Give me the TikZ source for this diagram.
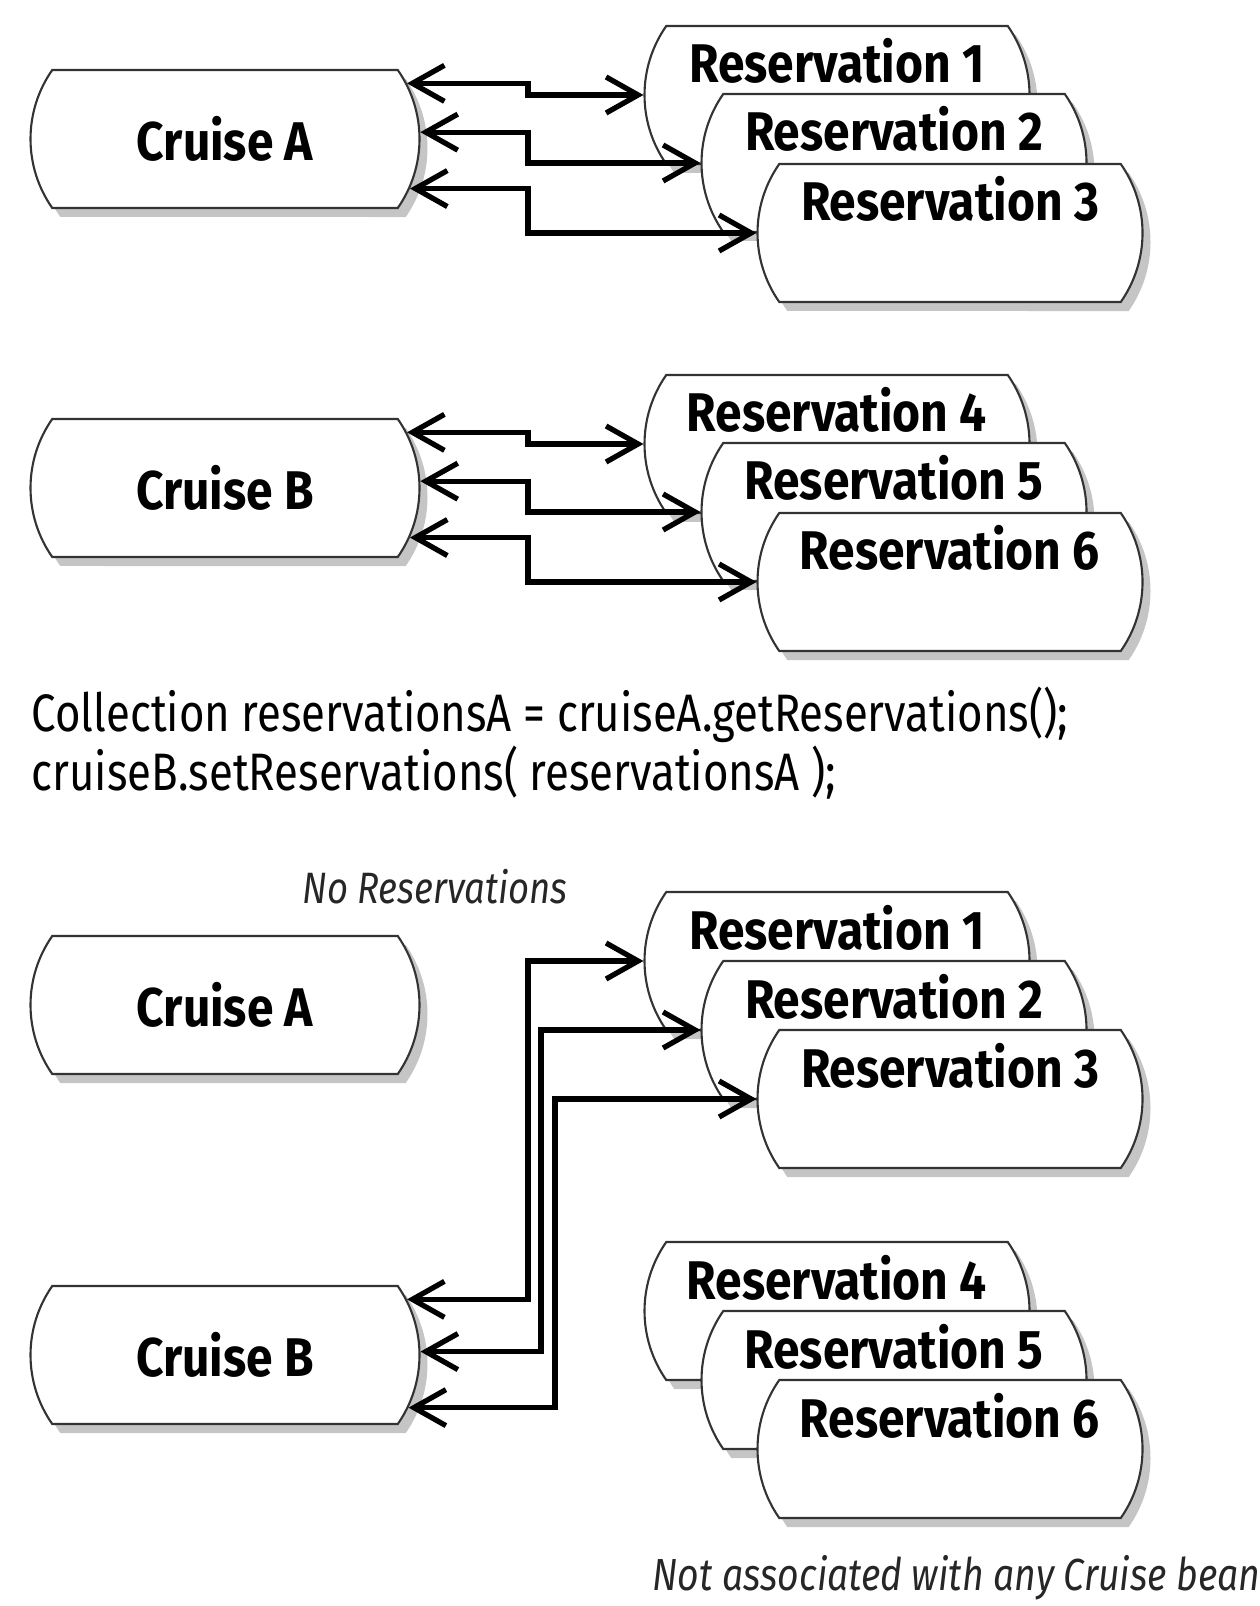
\documentclass[tikz,border=0pt]{standalone}
\usepackage{fontspec}
\setmainfont[FakeStretch=0.83]{Fira Sans}
\newfontfamily\labelfont[FakeStretch=0.88]{Fira Sans}
\usetikzlibrary{arrows.meta,positioning,shapes.misc,shadows}

\begin{document}
\begin{tikzpicture}[
  box/.style={rounded rectangle, rounded rectangle arc length=70,
    draw=black!80, line width=0.6pt, fill=white,
    drop shadow={shadow xshift=0.8mm, shadow yshift=-0.9mm, fill=black!45},
    inner sep=0pt, font=\labelfont\fontsize{15.5}{18}\selectfont\bfseries},
  cruise/.style={box, minimum width=3.89cm, minimum height=1.38cm},
  res/.style={box, minimum width=3.85cm, text height=5.7mm, text depth=8.1mm},
  link/.style={{Straight Barb[length=3.2mm,width=3.6mm]}-{Straight Barb[length=3.2mm,width=3.6mm]},
    line width=1.5pt},
  note/.style={font=\fontsize{12.5}{15}\selectfont\itshape, text=black!85, inner sep=0pt},
  code/.style={font=\fontsize{15}{16.8}\selectfont, align=left, inner sep=0pt}
]
\useasboundingbox (0,0) rectangle (12.59,-16.06);

% before: each cruise holds its own reservations
\node[cruise] (ca1) at (2.25,-1.39) {Cruise A};
\node[res] (r1) at (8.37,-0.95) {Reservation 1};
\node[res] (r2) at (8.94,-1.63) {Reservation 2};
\node[res] (r3) at (9.50,-2.33) {Reservation 3};

\node[cruise] (cb1) at (2.25,-4.88) {Cruise B};
\node[res] (r4) at (8.37,-4.44) {Reservation 4};
\node[res] (r5) at (8.94,-5.12) {Reservation 5};
\node[res] (r6) at (9.50,-5.82) {Reservation 6};

\coordinate (j1) at (5.28,0);
\coordinate (j2) at (5.41,0);
\coordinate (j3) at (5.55,0);

\draw[link] (ca1.17) -| (j1 |- r1.west) -- (r1.west);
\draw[link] (ca1.2) -| (j1 |- r2.west) -- (r2.west);
\draw[link] (ca1.-15) -| (j1 |- r3.west) -- (r3.west);

\draw[link] (cb1.17) -| (j1 |- r4.west) -- (r4.west);
\draw[link] (cb1.2) -| (j1 |- r5.west) -- (r5.west);
\draw[link] (cb1.-15) -| (j1 |- r6.west) -- (r6.west);

% the code
\node[code, anchor=north west] (src) at (0.31,-6.86)
  {Collection reservationsA = cruiseA.getReservations();\\
   cruiseB.setReservations( reservationsA );};

% after
\node[note] (empty) at (4.35,-8.87) {No Reservations};
\node[cruise] (ca2) at (2.25,-10.05) {Cruise A};
\node[res] (r1b) at (8.37,-9.61) {Reservation 1};
\node[res] (r2b) at (8.94,-10.30) {Reservation 2};
\node[res] (r3b) at (9.50,-10.99) {Reservation 3};

\node[res] (r4b) at (8.37,-13.11) {Reservation 4};
\node[res] (r5b) at (8.94,-13.80) {Reservation 5};
\node[res] (r6b) at (9.50,-14.49) {Reservation 6};
\node[cruise] (cb2) at (2.25,-13.55) {Cruise B};

\draw[link] (cb2.17) -| (j1 |- r1b.west) -- (r1b.west);
\draw[link] (cb2.1) -| (j2 |- r2b.west) -- (r2b.west);
\draw[link] (cb2.-16) -| (j3 |- r3b.west) -- (r3b.west);

\node[note, anchor=west, font=\fontsize{12.8}{15}\selectfont\itshape] (orphan) at (6.52,-15.78)
  {Not associated with any Cruise bean};
\end{tikzpicture}
\end{document}
